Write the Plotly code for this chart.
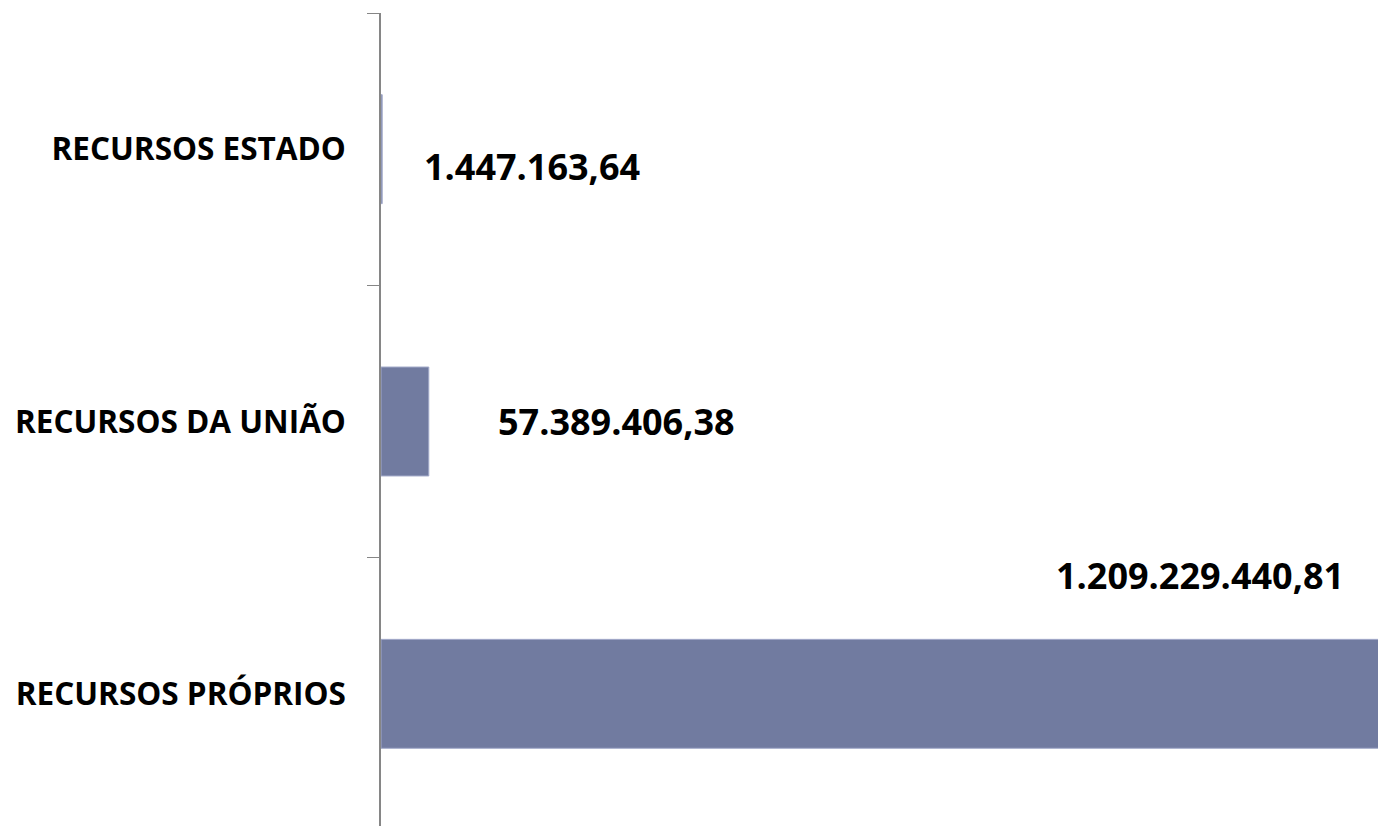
import plotly.graph_objects as go

categories = ["RECURSOS PRÓPRIOS", "RECURSOS DA UNIÃO", "RECURSOS ESTADO"]
values = [1209229440.81, 57389406.38, 1447163.64]
value_labels = ["1.209.229.440,81", "57.389.406,38", "1.447.163,64"]

# label offsets (px) relative to bar end / bar center
label_xshift = [-188, 188, 150]
label_yshift = [118, 0, -17]

BAR = "#717BA0"
EDGE = "#A3AACA"
AXIS = "#868686"
FONT = "Open Sans"

fig = go.Figure(
    go.Bar(
        x=values,
        y=categories,
        orientation="h",
        marker=dict(color=BAR, line=dict(color=EDGE, width=1)),
        hoverinfo="skip",
    )
)

for v, c, t, dx, dy in zip(values, categories, value_labels, label_xshift, label_yshift):
    fig.add_annotation(
        x=v, y=c, xref="x", yref="y", text=t, showarrow=False,
        xanchor="center", yanchor="middle", xshift=dx, yshift=dy,
        font=dict(family=FONT, size=36, color="#000000", weight="bold"),
    )

# chart is wider than the window: the largest bar runs past the right edge
fig.update_layout(
    width=1400, height=826,
    margin=dict(l=381, r=0, t=13, b=0, autoexpand=False),
    paper_bgcolor="white", plot_bgcolor="white",
    bargap=0.6, showlegend=False,
    xaxis=dict(range=[0, 1.2234e9], visible=False, showgrid=False, zeroline=False),
    yaxis=dict(
        type="category", categoryorder="array", categoryarray=categories,
        range=[-0.4853, 2.5], showline=True, linecolor=AXIS, linewidth=1.5,
        ticks="outside", ticklen=12, tickcolor=AXIS, tickwidth=1,
        tickson="boundaries", showgrid=False, zeroline=False, automargin=False,
        ticklabelstandoff=27,
        tickfont=dict(family=FONT, size=31.5, color="#000000", weight="bold"),
    ),
)

fig.write_html(
    "out.html",
    config={"displayModeBar": False},
    post_script="document.body.style.margin='0';document.body.style.overflow='hidden';",
)
